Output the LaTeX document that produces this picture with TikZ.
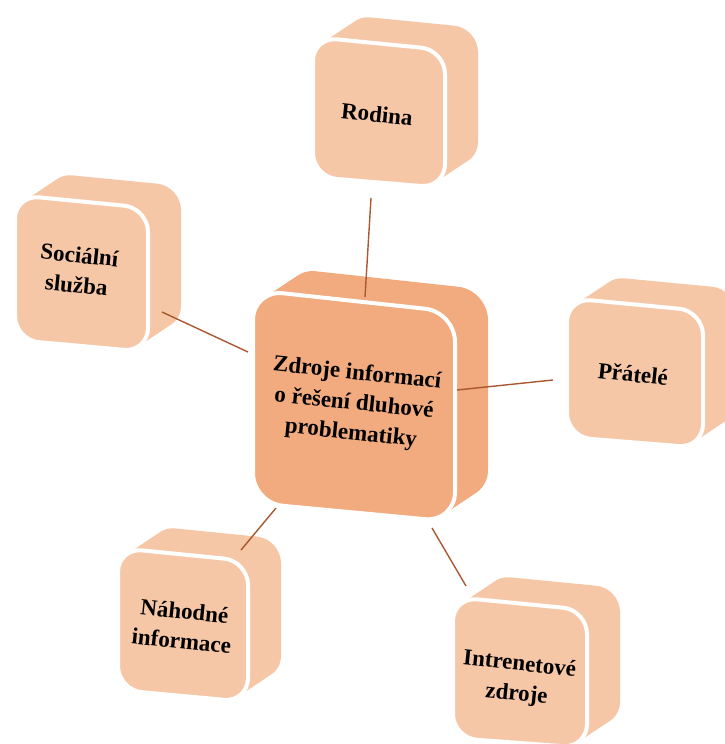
\documentclass[tikz,border=0pt]{standalone}
\usepackage{fontspec}
\setmainfont{Liberation Serif}
\definecolor{peach}{HTML}{F6C7A6}
\definecolor{peachdark}{HTML}{F1AB7E}
\definecolor{brownline}{HTML}{A9582F}
\tikzset{
  cubeback/.style={fill=#1, draw=none},
  cubefront/.style={fill=#1, draw=white, line width=4pt},
  lbl/.style={font=\fontsize{23}{30}\selectfont\bfseries, align=center, rotate=-6, inner sep=0pt},
  conn/.style={draw=brownline, line width=1.4pt}
}
% #1 left x, #2 right x, #3 top-left y, #4 top-right y, #5 bottom-right y, #6 bottom-left y, #7 colour, #8 radius
\newcommand\mycube[8]{%
  \foreach \t in {1,0.9,...,0.05}{
    \path[cubeback=#7, rounded corners=#8pt, shift={(33*\t,-22*\t)}] (#1,#3) -- (#2,#4) -- (#2,#5) -- (#1,#6) -- cycle;
  }
  \path[cubefront=#7, rounded corners=#8pt] (#1,#3) -- (#2,#4) -- (#2,#5) -- (#1,#6) -- cycle;
}
\begin{document}
\begin{tikzpicture}[x=1pt,y=-1pt]
\useasboundingbox (0,0) rectangle (724,744);
% cubes
\mycube{313}{445}{37}{50}{188}{177}{peach}{24}
\mycube{15}{148}{195}{208}{352}{340}{peach}{24}
\mycube{567}{703}{298}{311}{448}{437}{peach}{24}
\mycube{118}{248}{548}{561}{702}{690}{peach}{24}
\mycube{453}{587}{597}{610}{748}{738}{peach}{24}
\mycube{253}{455}{290}{312}{522}{503}{peachdark}{30}
% labels
\node[lbl] (center) at (354,404) {Zdroje informací\\o řešení dluhové\\problematiky};
\node[lbl] (rodina) at (377,114) {Rodina};
\node[lbl] (socialni) at (78,270) {Sociální\\služba};
\node[lbl] (pratele) at (633,374) {Přátelé};
\node[lbl] (nahodne) at (183,626) {Náhodné\\informace};
\node[lbl] (internet) at (518,680) {Intrenetové\\zdroje};
% connector end points
\coordinate (r1) at (371,198); \coordinate (r2) at (365,297);
\coordinate (s1) at (162,312); \coordinate (s2) at (248,352);
\coordinate (p1) at (553,380); \coordinate (p2) at (457,390);
\coordinate (n1) at (241,550); \coordinate (n2) at (276,508);
\coordinate (i1) at (466,586); \coordinate (i2) at (432,528);
\draw[conn] (r1) -- (r2);
\draw[conn] (s1) -- (s2);
\draw[conn] (p1) -- (p2);
\draw[conn] (n1) -- (n2);
\draw[conn] (i1) -- (i2);
\end{tikzpicture}
\end{document}
